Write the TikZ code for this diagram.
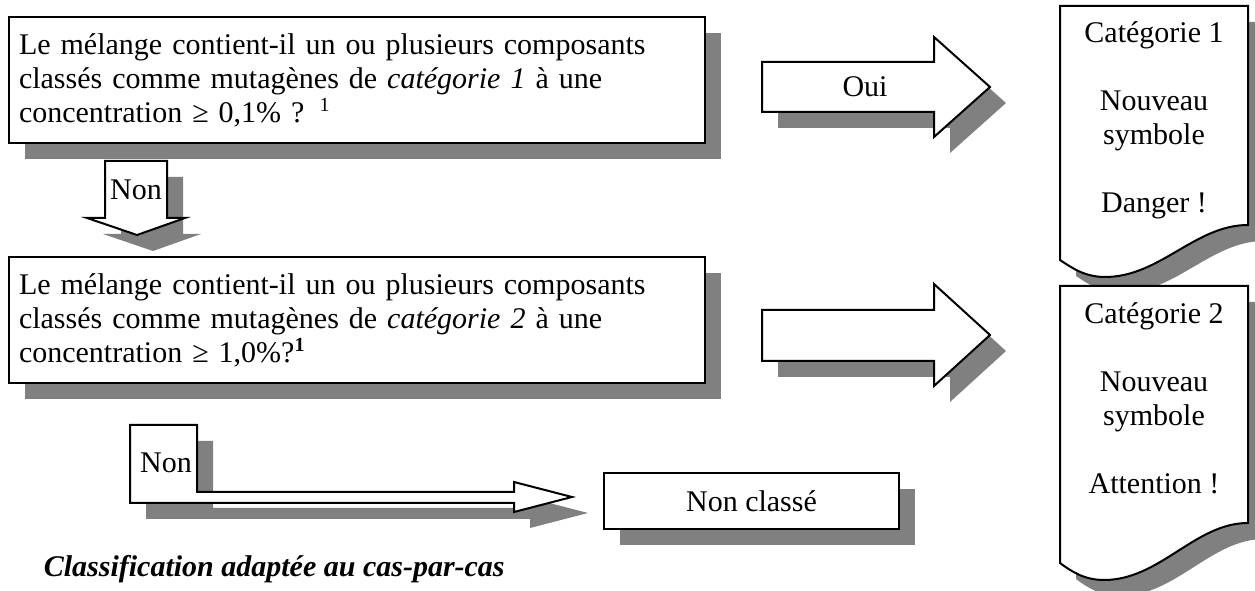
\documentclass[tikz,border=0pt]{standalone}
\usepackage{fontspec}
\setmainfont{Liberation Serif}
\usetikzlibrary{shadows}

\tikzset{
	ombre/.style={drop shadow={shadow xshift=6.4pt,shadow yshift=-6.4pt,fill=black!50,opacity=1}},
	boite/.style={draw,line width=0.8pt,fill=white,ombre},
	texte/.style={font=\fontsize{12}{13.6}\selectfont},
	question/.style={boite,texte,anchor=north west,text width=270.4pt,inner xsep=4pt,minimum height=50.4pt,align=left}
}

\begin{document}
\begin{tikzpicture}[x=0.4pt,y=-0.4pt]
		\useasboundingbox (0,0) rectangle (1255,591);
		% questions
		\node[question] (q1) at (8,16) {Le mélange contient-il un ou plusieurs composants\\classés comme mutagènes de \textit{catégorie 1} à une\\concentration ≥ 0,1\% ? \textsuperscript{1}};
		\draw[boite] (105,161) -- (167,161) -- (167,218) -- (185,218) -- (137,235) -- (87,218) -- (105,218) -- cycle;
		\node[texte] (non1) at (136,190) {Non};
		\node[question] (q2) at (8,256) {Le mélange contient-il un ou plusieurs composants\\classés comme mutagènes de \textit{catégorie 2} à une\\concentration ≥ 1,0\%?\textsuperscript{\textbf{1}}};
		% fleches vers les categories
		\draw[boite] (762,62) -- (934,62) -- (934,37) -- (990,87) -- (934,137) -- (934,112) -- (762,112) -- cycle;
		\node[texte] (oui) at (865,87) {Oui};
		\draw[boite] (762,310) -- (934,310) -- (934,284) -- (990,335) -- (934,386) -- (934,361) -- (762,361) -- cycle;
		% documents
		\draw[boite] (1060,6) -- (1248,6) -- (1248,225) .. controls (1195,225) and (1160,277) .. (1105,277) .. controls (1085,277) and (1072,268) .. (1060,260) -- cycle;
		\node[texte,align=center] (cat1) at (1154,120) {Catégorie 1\\[13.6pt]Nouveau\\symbole\\[13.6pt]Danger !};
		\draw[boite] (1060,286) -- (1248,286) -- (1248,523) .. controls (1195,523) and (1160,580) .. (1104,580) .. controls (1085,580) and (1072,572) .. (1060,563) -- cycle;
		\node[texte,align=center] (cat2) at (1154,398) {Catégorie 2\\[13.6pt]Nouveau\\symbole\\[13.6pt]Attention !};
		% non classe
		\draw[boite] (130,425) -- (197,425) -- (197,492) -- (514,492) -- (514,482) -- (572,497) -- (514,512) -- (514,503) -- (130,503) -- cycle;
		\node[texte] (non2) at (166,463) {Non};
		\node[boite,texte,anchor=north west,minimum width=118pt,minimum height=22.4pt] (nc) at (603,472) {Non classé};
		\node[texte,anchor=base west,font=\fontsize{12}{13.6}\selectfont\bfseries\itshape] (legende) at (35,577) {Classification adaptée au cas-par-cas};
\end{tikzpicture}
\end{document}
